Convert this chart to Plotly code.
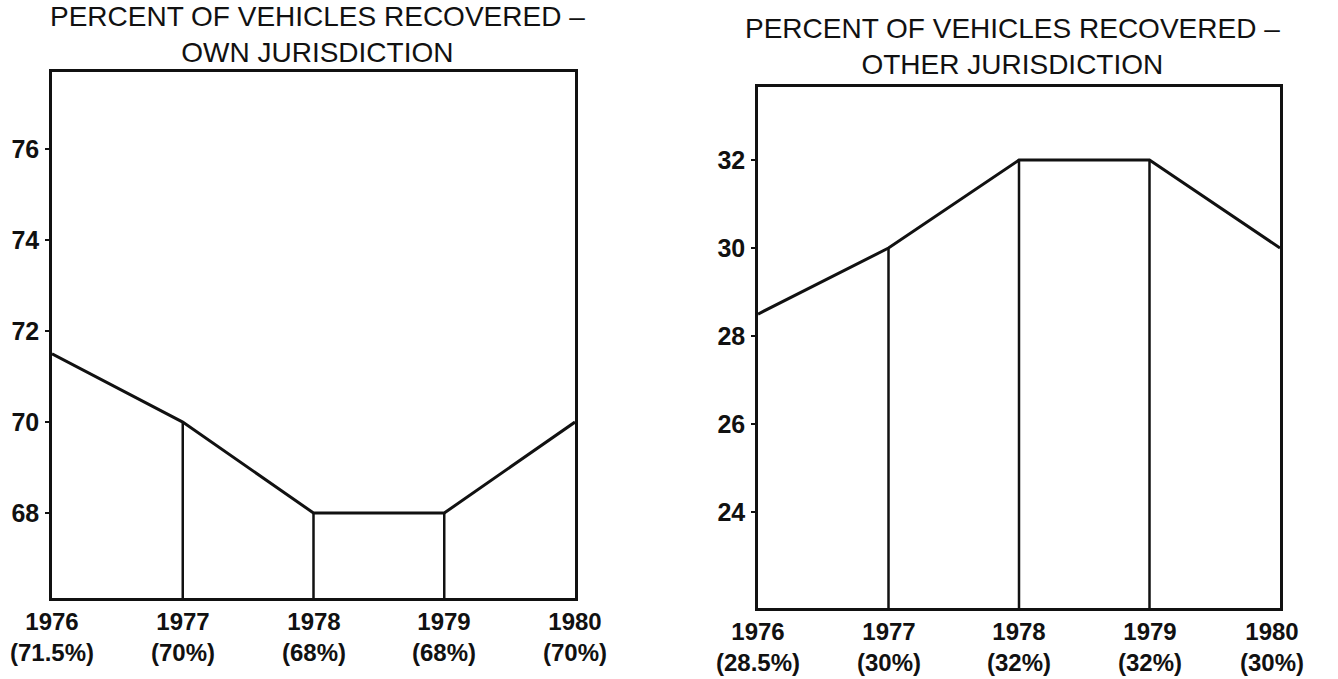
import plotly.graph_objects as go

# Recovery rates by year
years = [1976, 1977, 1978, 1979, 1980]
own_pct = [71.5, 70, 68, 68, 70]
other_pct = [28.5, 30, 32, 32, 30]

own_ticks = [68, 70, 72, 74, 76]
other_ticks = [24, 26, 28, 30, 32]

own_title = "PERCENT OF VEHICLES RECOVERED \u2013<br>OWN JURISDICTION"
other_title = "PERCENT OF VEHICLES RECOVERED \u2013<br>OTHER JURISDICTION"

W, H = 1338, 679
FONT = "Liberation Sans, Arial, Helvetica, sans-serif"
INK = "#111111"

# panel boxes in pixels: (left, right, top, bottom) plus title placement
panels = [
    dict(box=(52, 575, 72, 598), yrange=(66.13, 77.7), vals=own_pct,
         ticks=own_ticks, title=own_title, xa="x", ya="y",
         title_dx=4, title_dy=2, last_dx=0),
    dict(box=(758, 1280, 87, 608), yrange=(21.82, 33.66), vals=other_pct,
         ticks=other_ticks, title=other_title, xa="x2", ya="y2",
         title_dx=-7, title_dy=5, last_dx=-8),
]

fig = go.Figure()
annotations = []
layout_axes = {}

for i, p in enumerate(panels):
    l, r, t, b = p["box"]
    sfx = "" if i == 0 else str(i + 1)
    ymin, ymax = p["yrange"]

    layout_axes["xaxis" + sfx] = dict(
        domain=[l / W, r / W], range=[years[0], years[-1]],
        showline=True, mirror=True, linecolor=INK, linewidth=2.5,
        showgrid=False, zeroline=False, showticklabels=False, ticks="",
        anchor=p["ya"],
    )
    layout_axes["yaxis" + sfx] = dict(
        domain=[1 - b / H, 1 - t / H], range=[ymin, ymax],
        tickvals=p["ticks"], ticktext=[str(v) for v in p["ticks"]],
        ticks="outside", ticklen=4, tickwidth=2, tickcolor=INK,
        showline=True, mirror=True, linecolor=INK, linewidth=2.5,
        showgrid=False, zeroline=False, anchor=p["xa"],
        tickfont=dict(family=FONT, size=25, color=INK, weight="bold"),
        ticklabelstandoff=1,
    )

    # trend line
    fig.add_trace(go.Scatter(
        x=years, y=p["vals"], mode="lines",
        line=dict(color=INK, width=3), xaxis=p["xa"], yaxis=p["ya"],
        hoverinfo="skip", showlegend=False,
    ))

    # drop lines from the interior points down to the baseline
    dx, dy = [], []
    for yr, v in zip(years[1:-1], p["vals"][1:-1]):
        dx += [yr, yr, None]
        dy += [ymin, v, None]
    fig.add_trace(go.Scatter(
        x=dx, y=dy, mode="lines", line=dict(color=INK, width=2.5),
        xaxis=p["xa"], yaxis=p["ya"], hoverinfo="skip", showlegend=False,
    ))

    # year / value labels under the axis
    for k, (yr, v) in enumerate(zip(years, p["vals"])):
        annotations.append(dict(
            x=yr, y=0, xref=p["xa"], yref=p["ya"] + " domain",
            xanchor="center", yanchor="top", yshift=-8,
            xshift=p["last_dx"] if k == len(years) - 1 else 0,
            text=f"{yr}<br>({v:g}%)", showarrow=False, align="center",
            font=dict(family=FONT, size=24, color=INK, weight="bold"),
        ))

    # panel title
    annotations.append(dict(
        x=(l + r) / 2 / W, y=1, xref="paper", yref=p["ya"] + " domain",
        xanchor="center", yanchor="bottom",
        xshift=p["title_dx"], yshift=p["title_dy"],
        text=p["title"], showarrow=False, align="center",
        font=dict(family=FONT, size=28, color=INK),
    ))

fig.update_layout(
    width=W, height=H,
    margin=dict(l=0, r=0, t=0, b=0),
    paper_bgcolor="white", plot_bgcolor="white",
    annotations=annotations,
    **layout_axes,
)

fig.write_html("out.html")
